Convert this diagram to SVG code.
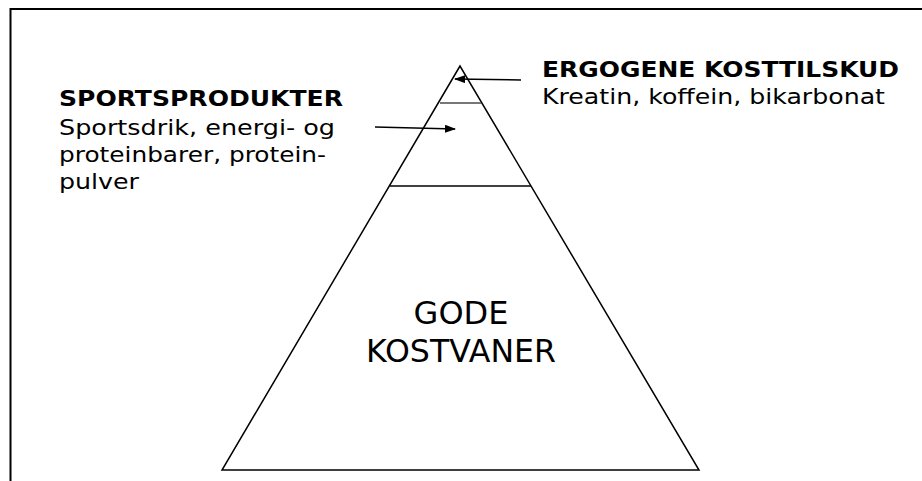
<svg xmlns="http://www.w3.org/2000/svg" width="922" height="481" viewBox="0 0 922 481">
<style>
.t{font-family:"DejaVu Sans",Verdana,sans-serif;fill:#000}
.b{font-weight:bold;font-size:22px}
.r{font-size:22px}
.big{font-size:32px}
.ln{stroke:#000;stroke-width:1.5;fill:none}
</style>
<defs>
<marker id="ah" markerWidth="11" markerHeight="8" refX="10" refY="4" orient="auto" markerUnits="userSpaceOnUse">
<path d="M0,0 L11,4 L0,8 Z" fill="#000"/>
</marker>
</defs>
<rect width="922" height="481" fill="#fff"/>
<g id="frame">
<path d="M922,9 H10.5 V481" stroke="#000" stroke-width="2" fill="none"/>
</g>
<g id="pyramid">
<path class="ln" d="M460,66 L222,470 L699,470 Z"/>
<line x1="440" y1="103" x2="481" y2="103" stroke="#777" stroke-width="2"/>
<line class="ln" x1="390" y1="186" x2="531" y2="186"/>
<text class="t big" x="461" y="324" text-anchor="middle">GODE</text>
<text class="t big" x="461" y="362" text-anchor="middle" textLength="190" lengthAdjust="spacingAndGlyphs">KOSTVANER</text>
</g>
<g id="ergogene">
<text class="t b" x="542" y="77" textLength="357" lengthAdjust="spacingAndGlyphs">ERGOGENE KOSTTILSKUD</text>
<text class="t r" x="542" y="104" textLength="343" lengthAdjust="spacingAndGlyphs">Kreatin, koffein, bikarbonat</text>
</g>
<g id="sportsprodukter">
<text class="t b" x="59" y="106" textLength="284" lengthAdjust="spacingAndGlyphs">SPORTSPRODUKTER</text>
<text class="t r" x="59" y="135" textLength="276" lengthAdjust="spacingAndGlyphs">Sportsdrik, energi- og</text>
<text class="t r" x="59" y="162" textLength="267" lengthAdjust="spacingAndGlyphs">proteinbarer, protein-</text>
<text class="t r" x="59" y="189" textLength="80" lengthAdjust="spacingAndGlyphs">pulver</text>
</g>
<g id="connectors">
<line class="ln" x1="521" y1="80" x2="455" y2="79" marker-end="url(#ah)"/>
<line class="ln" x1="375" y1="127" x2="455" y2="129" marker-end="url(#ah)"/>
</g>
</svg>
